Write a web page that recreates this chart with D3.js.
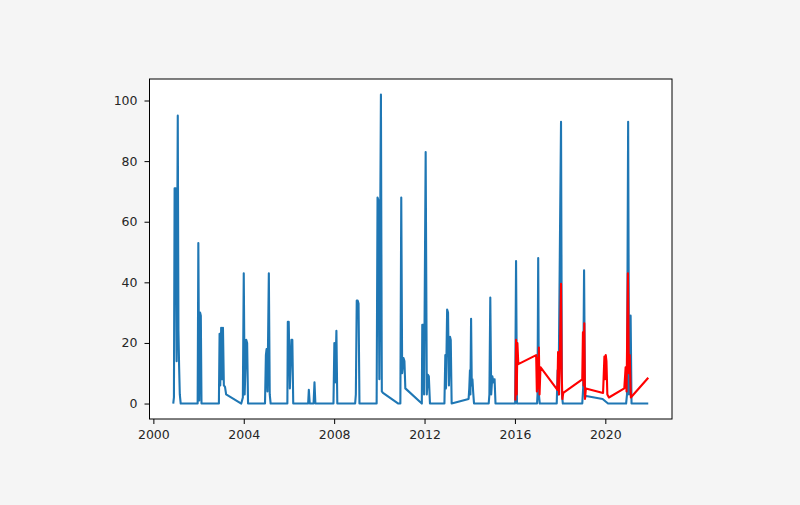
<!DOCTYPE html>
<html>
<head>
<meta charset="utf-8">
<script src="https://cdn.jsdelivr.net/npm/d3@7"></script>
<style>
  html, body { margin: 0; padding: 0; background: #f5f5f5; }
  svg { display: block; }
  text { font-family: "DejaVu Sans", sans-serif; }
</style>
</head>
<body>
<svg id="chart" width="800" height="505"></svg>
<script>
// Observed series (decimal year, value)
const obsYears = [
  2000.88, 2000.91, 2000.94, 2000.99, 2001.03, 2001.08, 2001.11, 2001.14, 2001.17, 2001.21,
  2001.96, 2001.99, 2002.03, 2002.07, 2002.10, 2002.13,
  2002.90, 2002.93, 2002.96, 2003.00, 2003.04, 2003.08, 2003.12, 2003.17, 2003.22, 2003.89,
  2003.96, 2004.00, 2004.04, 2004.11, 2004.15, 2004.19,
  2004.94, 2004.98, 2005.01, 2005.05, 2005.11, 2005.15, 2005.19,
  2005.93, 2005.95, 2005.99, 2006.04, 2006.11, 2006.15, 2006.19,
  2006.85, 2006.88, 2006.92, 2007.09, 2007.13, 2007.17,
  2007.97, 2008.01, 2008.05, 2008.10, 2008.14,
  2008.93, 2008.96, 2009.00, 2009.04, 2009.08, 2009.12,
  2009.88, 2009.92, 2009.96, 2010.00, 2010.07, 2010.11, 2010.16, 2010.84,
  2010.93, 2010.97, 2011.01, 2011.07, 2011.11, 2011.15, 2011.88,
  2011.90, 2011.94, 2011.98, 2012.05, 2012.10, 2012.15, 2012.19, 2012.24,
  2012.88, 2012.92, 2012.95, 2013.00, 2013.04, 2013.08, 2013.13, 2013.16, 2013.20, 2013.95,
  2013.98, 2014.01, 2014.03, 2014.06, 2014.09, 2014.12, 2014.15, 2014.19,
  2014.84, 2014.87, 2014.91, 2014.95, 2015.00, 2015.05, 2015.10, 2015.14,
  2016.01, 2016.05, 2016.09,
  2016.98, 2017.00, 2017.03, 2017.06, 2017.10,
  2017.85, 2017.89, 2017.93, 2018.04, 2018.08, 2018.12,
  2018.98, 2019.02, 2019.06, 2019.10, 2019.15, 2019.88, 2020.12,
  2020.92, 2020.96, 2021.01, 2021.05, 2021.12, 2021.16, 2021.90
];
const obsValues = [
  0, 2, 71, 71, 14, 95, 24, 12, 3, 0,
  0, 53, 1, 30, 29, 0,
  0, 23, 6, 25, 8, 25, 6, 5.5, 3, 0,
  2, 43, 3, 21, 20, 0,
  0, 16, 18, 4, 43, 3, 0,
  0, 27, 27, 5, 21, 21, 0,
  0, 4.5, 0, 0, 7, 0,
  0, 20, 7, 24, 0,
  0, 3, 34, 34, 33, 0,
  0, 68, 67, 8, 102, 4, 3.5, 0,
  0, 68, 10, 15, 14, 5, 0,
  26, 26, 3, 83, 3, 9.5, 9, 0,
  0, 16, 5, 31, 30, 6, 22, 21, 0, 1.5,
  5, 11, 3, 28, 6, 8, 4, 0,
  0, 3, 35, 3, 9, 7, 8, 0,
  0, 47, 0,
  0, 3, 48, 3, 0,
  0, 11, 3, 93, 3, 0,
  0, 5, 44, 2, 2.5, 1.5, 0,
  0, 3, 93, 3, 29, 0, 0
];

// Predicted series (decimal year, value)
const predYears = [
  2016.02, 2016.05, 2016.08, 2016.11, 2016.15, 2016.94, 2016.97, 2017.00, 2017.03, 2017.06,
  2017.09, 2017.13, 2017.88, 2017.91, 2017.95, 2018.00, 2018.04, 2018.07, 2018.10, 2018.14,
  2018.98, 2019.01, 2019.04, 2019.07, 2019.10, 2019.14, 2019.90, 2019.96, 2019.99, 2020.02,
  2020.05, 2020.09, 2020.16, 2020.84, 2020.90, 2020.94, 2021.00, 2021.04, 2021.08, 2021.13,
  2021.90
];
const predValues = [
  1, 21, 3, 20, 13, 16, 4, 15, 5, 18.5,
  3, 12, 4.5, 17, 3, 20, 39.5, 10, 1.5, 3.5,
  8, 23.5, 6, 26.5, 1.5, 5, 3.5, 15.5, 8, 16,
  14, 3, 2, 5, 12, 4, 43, 10, 16, 2,
  8.5
];

const xTickValues = [2000, 2004, 2008, 2012, 2016, 2020];
const xTickLabels = ["2000", "2004", "2008", "2012", "2016", "2020"];
const yTickValues = [0, 20, 40, 60, 80, 100];
const yTickLabels = ["0", "20", "40", "60", "80", "100"];

const obs = obsYears.map((t, i) => ({ t, v: obsValues[i] }));
const pred = predYears.map((t, i) => ({ t, v: predValues[i] }));

const plot = { left: 149.5, right: 672, top: 79, bottom: 419 };
const svg = d3.select("#chart");

// matplotlib-style 5% data margins
const allT = obsYears.concat(predYears), allV = obsValues.concat(predValues);
const [t0, t1] = d3.extent(allT), [v0, v1] = d3.extent(allV);
const tp = (t1 - t0) * 0.05, vp = (v1 - v0) * 0.05;

const x = d3.scaleLinear().domain([t0 - tp, t1 + tp]).range([plot.left, plot.right]);
const y = d3.scaleLinear().domain([v0 - vp, v1 + vp]).range([plot.bottom, plot.top]);

svg.append("rect")
  .attr("x", plot.left).attr("y", plot.top)
  .attr("width", plot.right - plot.left).attr("height", plot.bottom - plot.top)
  .attr("fill", "#ffffff");

const line = d3.line().x(d => x(d.t)).y(d => y(d.v));
svg.append("clipPath").attr("id", "clip").append("rect")
  .attr("x", plot.left).attr("y", plot.top)
  .attr("width", plot.right - plot.left).attr("height", plot.bottom - plot.top);

const g = svg.append("g").attr("clip-path", "url(#clip)");
g.append("path").datum(obs).attr("d", line)
  .attr("fill", "none").attr("stroke", "#1f77b4").attr("stroke-width", 2.1)
  .attr("stroke-linejoin", "round");
g.append("path").datum(pred).attr("d", line)
  .attr("fill", "none").attr("stroke", "#ff0000").attr("stroke-width", 2.1)
  .attr("stroke-linejoin", "round");

// axes
const xAxis = d3.axisBottom(x).tickValues(xTickValues)
  .tickFormat((d, i) => xTickLabels[i]).tickSize(5).tickPadding(6).tickSizeOuter(0);
const yAxis = d3.axisLeft(y).tickValues(yTickValues)
  .tickFormat((d, i) => yTickLabels[i]).tickSize(5).tickPadding(7).tickSizeOuter(0);

const gx = svg.append("g").attr("transform", `translate(0,${plot.bottom})`).call(xAxis);
const gy = svg.append("g").attr("transform", `translate(${plot.left},0)`).call(yAxis);
[gx, gy].forEach(a => {
  a.select(".domain").remove();
  a.selectAll(".tick line").attr("stroke", "#000").attr("stroke-width", 1);
  a.selectAll(".tick text").attr("fill", "#262626")
    .style("font-family", "'DejaVu Sans', sans-serif").style("font-size", "12.5px");
});

// spines
svg.append("rect")
  .attr("x", plot.left).attr("y", plot.top)
  .attr("width", plot.right - plot.left).attr("height", plot.bottom - plot.top)
  .attr("fill", "none").attr("stroke", "#000").attr("stroke-width", 1);
</script>
</body>
</html>
